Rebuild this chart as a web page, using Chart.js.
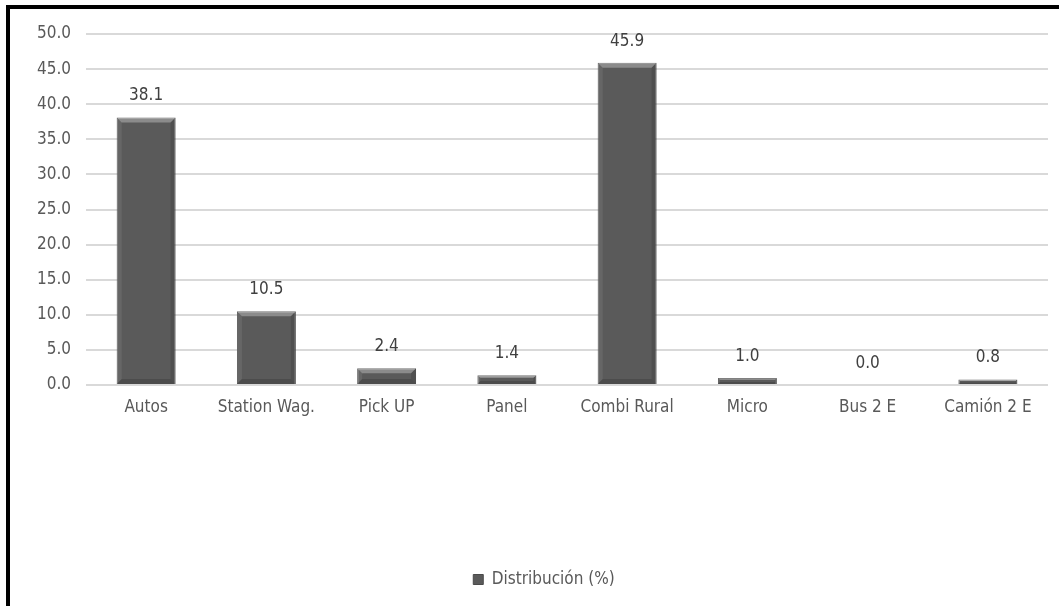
<!DOCTYPE html>
<html>
<head>
<meta charset="utf-8">
<script src="https://cdn.jsdelivr.net/npm/chart.js@4"></script>
<style>
  html, body { margin: 0; padding: 0; background: #fff; }
  #wrap { position: relative; width: 1059px; height: 606px; }
  #frame {
    position: absolute; left: 6px; top: 5px; right: -10px; bottom: -10px;
    border-left: 4px solid #000; border-top: 4px solid #000;
    pointer-events: none;
  }
</style>
</head>
<body>
<div id="wrap">
  <canvas id="chart" width="1059" height="606"></canvas>
  <div id="frame"></div>
</div>
<script>
const categories = ['Autos', 'Station Wag.', 'Pick UP', 'Panel', 'Combi Rural', 'Micro', 'Bus 2 E', 'Camión 2 E'];
const distribucion = [38.1, 10.5, 2.4, 1.4, 45.9, 1.0, 0.0, 0.8];
const yTicks = [0, 5, 10, 15, 20, 25, 30, 35, 40, 45, 50];

const FONT = "'Liberation Sans Narrow', 'Arial Narrow', 'DejaVu Sans Condensed', Arial, sans-serif";

// value labels above each bar
const valueLabels = {
  id: 'valueLabels',
  afterDatasetsDraw(chart) {
    const ctx = chart.ctx;
    const meta = chart.getDatasetMeta(0);
    ctx.save();
    ctx.font = '17px ' + FONT;
    ctx.fillStyle = '#404040';
    ctx.textAlign = 'center';
    ctx.textBaseline = 'bottom';
    meta.data.forEach((bar, i) => {
      ctx.fillText(distribucion[i].toFixed(1), bar.x, bar.y - 13);
    });
    ctx.restore();
  }
};

// light bevel on the bars, like the office chart
const bevel = {
  id: 'bevel',
  afterDatasetsDraw(chart) {
    const ctx = chart.ctx;
    const meta = chart.getDatasetMeta(0);
    ctx.save();
    meta.data.forEach(bar => {
      const h = bar.base - bar.y;
      if (h < 1) return;
      const l = bar.x - bar.width / 2, r = bar.x + bar.width / 2;
      const t = bar.y, b = bar.base;
      const d = Math.min(5, h / 3);
      ctx.fillStyle = 'rgba(255,255,255,0.3)';
      ctx.beginPath();
      ctx.moveTo(l, t); ctx.lineTo(r, t); ctx.lineTo(r - d, t + d); ctx.lineTo(l + d, t + d);
      ctx.closePath(); ctx.fill();
      ctx.fillStyle = 'rgba(255,255,255,0.08)';
      ctx.beginPath();
      ctx.moveTo(l, t); ctx.lineTo(l + d, t + d); ctx.lineTo(l + d, b - d); ctx.lineTo(l, b);
      ctx.closePath(); ctx.fill();
      ctx.fillStyle = 'rgba(0,0,0,0.12)';
      ctx.beginPath();
      ctx.moveTo(r, t); ctx.lineTo(r - d, t + d); ctx.lineTo(r - d, b - d); ctx.lineTo(r, b);
      ctx.closePath(); ctx.fill();
      ctx.fillStyle = 'rgba(0,0,0,0.15)';
      ctx.beginPath();
      ctx.moveTo(l, b); ctx.lineTo(l + d, b - d); ctx.lineTo(r - d, b - d); ctx.lineTo(r, b);
      ctx.closePath(); ctx.fill();
    });
    ctx.restore();
  }
};

// legend sits a bit right of centre in the original
const legendShift = {
  id: 'legendShift',
  afterLayout(chart) {
    chart.legend.left += 20;
    chart.legend.right += 20;
  }
};

new Chart(document.getElementById('chart'), {
  type: 'bar',
  data: {
    labels: categories,
    datasets: [{
      label: 'Distribución (%)',
      data: distribucion,
      backgroundColor: '#5a5a5a',
      borderColor: '#4a4a4a',
      borderWidth: 1,
      categoryPercentage: 1,
      barPercentage: 0.49
    }]
  },
  options: {
    responsive: false,
    animation: false,
    layout: { padding: { top: 34, right: 11, bottom: 8, left: 0 } },
    scales: {
      x: {
        grid: { display: false },
        border: { display: false },
        ticks: { color: '#595959', font: { family: FONT, size: 17 }, padding: 4 },
        afterFit(s) { s.height = 176; }
      },
      y: {
        min: 0,
        max: 50,
        afterBuildTicks(s) { s.ticks = yTicks.map(v => ({ value: v })); },
        grid: { color: '#d9d9d9', lineWidth: 2, drawTicks: false },
        border: { display: false },
        ticks: {
          color: '#595959',
          font: { family: FONT, size: 17 },
          padding: 15,
          callback: v => v.toFixed(1)
        },
        afterFit(s) { s.width = 86; }
      }
    },
    plugins: {
      legend: {
        position: 'bottom',
        labels: {
          color: '#595959',
          font: { family: FONT, size: 17 },
          boxWidth: 10,
          boxHeight: 10,
          padding: 10
        }
      },
      tooltip: { enabled: false }
    }
  },
  plugins: [bevel, valueLabels, legendShift]
});
</script>
</body>
</html>
